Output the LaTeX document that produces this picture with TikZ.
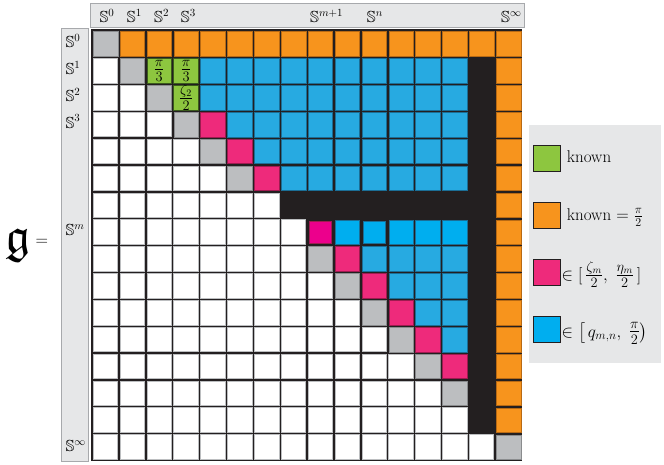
\documentclass[tikz,border=0pt]{standalone}
\usepackage{amsmath,amssymb,bm}
\definecolor{cOr}{HTML}{F7941D}
\definecolor{cOrD}{HTML}{B86A14}
\definecolor{cBl}{HTML}{27AAE1}
\definecolor{cBr}{HTML}{00AEEF}
\definecolor{cBlD}{HTML}{1B6E96}
\definecolor{cPk}{HTML}{EE2A7B}
\definecolor{cMg}{HTML}{EC008C}
\definecolor{cPkD}{HTML}{9E1B50}
\definecolor{cGr}{HTML}{8DC63F}
\definecolor{cGrD}{HTML}{3A5A1C}
\definecolor{cGy}{HTML}{BCBEC0}
\definecolor{cGyD}{HTML}{8A8C8E}
\definecolor{cHd}{HTML}{E6E7E8}
\definecolor{cHdD}{HTML}{A7A9AC}
\definecolor{cDk}{HTML}{231F20}
\newcommand\cellat[3]{\path[#3] ({93.2+#1*26.87},{31.7+#2*26.87}) rectangle ++(24.5,24.5);}
\newcommand\cellin[3]{\path[#3] ({94.4+#1*26.87},{32.9+#2*26.87}) rectangle ++(22.1,22.1);}
\newcommand\bigfr[2]{\mbox{\fontsize{19.5}{23}\selectfont$\tfrac{#1}{#2}$}}
\begin{document}
\begin{tikzpicture}[x=1pt,y=-1pt,
  cellW/.style={fill=white,draw=cGy,line width=0.8pt},
  cellG/.style={fill=cGy,draw=cGyD,line width=0.4pt},
  cellO/.style={fill=cOr,draw=cOrD,line width=0.4pt},
  cellB/.style={fill=cBl,draw=cBlD,line width=0.5pt},
  cellC/.style={fill=cBr,draw=cBlD,line width=0.5pt},
  cellP/.style={fill=cPk,draw=cPkD,line width=0.5pt},
  cellM/.style={fill=cMg,draw=cPkD,line width=0.5pt},
  cellN/.style={fill=cGr,draw=cGrD,line width=0.7pt},
  legsq/.style={draw=cDk,line width=0.9pt},
  lab/.style={anchor=base west,inner sep=0pt,font=\fontsize{16}{19}\selectfont},
  frac/.style={inner sep=0pt,font=\fontsize{20}{24}\selectfont},
  legtxt/.style={anchor=base west,inner sep=0pt,font=\fontsize{17}{20}\selectfont}]
\useasboundingbox (0,0) rectangle (664,465);
% header bars
\draw[fill=cHd,draw=cHdD,line width=0.9pt] (90.8,3.3) rectangle (524,27.4);
\draw[fill=cHd,draw=cHdD,line width=0.9pt] (61.7,28.4) rectangle (88.2,461.8);
% legend box
\fill[cHd] (528.5,125) rectangle (661,362.5);
% grid background
\fill[cDk] (90.8,29.3) rectangle (522.3,460.8);
% row 0 and last column
\cellat{0}{0}{cellG}
\foreach \c in {1,...,15} {\cellat{\c}{0}{cellO}}
\foreach \r in {1,...,14} {\cellat{15}{\r}{cellO}}
% white lower part
\foreach \r in {1,...,15} {
  \pgfmathtruncatemacro\lst{\r-1}
  \foreach \c in {0,...,\lst} {\cellat{\c}{\r}{cellW}}
}
\cellat{6}{6}{cellW}
\cellat{7}{7}{cellW}
% diagonal
\foreach \r in {1,...,5,8,9,...,13,15} {\cellat{\r}{\r}{cellG}}
% green
\cellat{2}{1}{cellN}
\cellat{3}{1}{cellN}
\cellat{3}{2}{cellN}
% pink
\foreach \r in {3,4,5,8,9,...,12} {\pgfmathtruncatemacro\cc{\r+1}\cellat{\cc}{\r}{cellP}}
% blue
\foreach \c in {4,...,13} {\cellat{\c}{1}{cellB}\cellat{\c}{2}{cellB}}
\foreach \r in {3,4,5,8,9,10,11} {
  \pgfmathtruncatemacro\fst{\r+2}
  \foreach \c in {\fst,...,13} {\cellat{\c}{\r}{cellB}}
}
% row m
\cellin{8}{7}{cellM}
\cellat{9}{7}{cellC}
\cellin{10}{7}{cellC}
\foreach \c in {11,12,13} {\cellat{\c}{7}{cellC}}
% fractions in green cells
\node[frac] (f21) at ({93.2+2*26.87+12.25},{31.7+26.87+12.25}) {$\tfrac{\pi}{3}$};
\node[frac] (f31) at ({93.2+3*26.87+12.25},{31.7+26.87+12.25}) {$\tfrac{\pi}{3}$};
\node[frac] (f32) at ({93.2+3*26.87+12.25},{31.7+2*26.87+12.25}) {$\tfrac{\zeta_2}{2}$};
% top labels
\node[lab] (t0) at (99.3,22.6) {$\mathbb{S}^0$};
\node[lab] (t1) at (126.7,22.6) {$\mathbb{S}^1$};
\node[lab] (t2) at (154,22.6) {$\mathbb{S}^2$};
\node[lab] (t3) at (180.7,22.6) {$\mathbb{S}^3$};
\node[lab] (tm) at (310,22.6) {$\mathbb{S}^{m+1}$};
\node[lab] (tn) at (366.7,22.6) {$\mathbb{S}^n$};
\node[lab] (ti) at (501,22.6) {$\mathbb{S}^\infty$};
% left labels
\node[lab] (l0) at (65.3,47.6) {$\mathbb{S}^0$};
\node[lab] (l1) at (65.3,74.5) {$\mathbb{S}^1$};
\node[lab] (l2) at (65.3,101.3) {$\mathbb{S}^2$};
\node[lab] (l3) at (65.3,128.2) {$\mathbb{S}^3$};
\node[lab] (lm) at (65.3,235.7) {$\mathbb{S}^m$};
\node[lab] (li) at (65.3,451.5) {$\mathbb{S}^\infty$};
% g =
\node[inner sep=0pt,anchor=base west,font=\fontsize{50}{54}\selectfont] (g) at (5,252) {$\mathfrak{g}$};
\node[inner sep=0pt,anchor=base west,font=\fontsize{19}{22}\selectfont] (eq) at (35.5,246) {$=$};
% legend
\path[legsq,fill=cGr] (533.5,145) rectangle ++(26.5,26);
\path[legsq,fill=cOr] (533.5,202) rectangle ++(26.5,26);
\path[legsq,fill=cPk] (533.5,259) rectangle ++(26.5,26);
\path[legsq,fill=cBr] (533.5,316) rectangle ++(26.5,26);
\node[legtxt] (k1) at (566.7,162.2) {known};
\node[legtxt] (k2) at (566.7,220.2) {known $=\tfrac{\pi}{2}$};
\node[legtxt] (k3) at (561.5,280.5) {$\in[\,\bigfr{\zeta_m}{2},\;\bigfr{\eta_m}{2}\,]$};
\node[legtxt] (k4) at (561.5,337) {$\in\bigl[\,q_{m,n},\;\bigfr{\pi}{2}\bigr)$};
\end{tikzpicture}
\end{document}
